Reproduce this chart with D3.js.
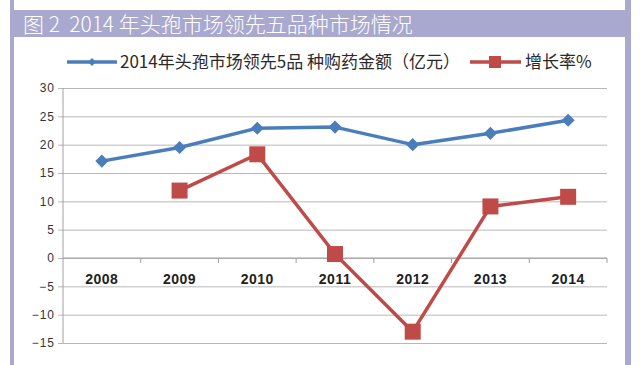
<!DOCTYPE html>
<html>
<head>
<meta charset="utf-8">
<script src="https://cdn.jsdelivr.net/npm/d3@7"></script>
<style>
  body { margin: 0; background: #fff; }
  svg { display: block; }
</style>
</head>
<body>
<svg id="chart" width="640" height="365"></svg>
<script>
// data
const years = ["2008", "2009", "2010", "2011", "2012", "2013", "2014"];
const amount = [17.1, 19.5, 22.9, 23.1, 20.0, 22.0, 24.3];
const growth = [null, 11.9, 18.3, 0.7, -13.0, 9.1, 10.8];
const yTicks = [30, 25, 20, 15, 10, 5, 0, -5, -10, -15];
const title = "图 2\u00a0\u00a02014 年头孢市场领先五品种市场情况";
const seriesNames = ["2014年头孢市场领先5品 种购药金额（亿元）", "增长率%"];

const svg = d3.select("#chart");
const frame = "#a9a9cf";
const blue = "#4a7ebb";
const red = "#be4b48";
const font = "'Liberation Sans', Arial, sans-serif";
const cjk = "'Noto Sans CJK SC', sans-serif";

// frame + title band
svg.append("rect").attr("x", 10).attr("y", 0).attr("width", 4).attr("height", 365).attr("fill", frame);
svg.append("rect").attr("x", 625).attr("y", 0).attr("width", 6).attr("height", 365).attr("fill", frame);
svg.append("rect").attr("x", 10).attr("y", 10).attr("width", 621).attr("height", 27).attr("fill", frame);
svg.append("text")
    .attr("x", 23).attr("y", 32)
    .attr("fill", "#fff")
    .attr("font-family", cjk)
    .attr("font-weight", 300)
    .attr("font-size", 21)
    .text(title);

const margin = { left: 63, right: 33, top: 88, bottom: 22 };
const innerW = 640 - margin.left - margin.right;
const innerH = 365 - margin.top - margin.bottom;

const x = d3.scaleBand().domain(years).range([0, innerW]);
const y = d3.scaleLinear().domain([-15, 30]).range([innerH, 0]);

const g = svg.append("g").attr("transform", "translate(" + margin.left + "," + margin.top + ")");

// gridlines + y labels
const yAxis = g.append("g")
    .call(d3.axisLeft(y).tickValues(yTicks).tickSize(-innerW).tickPadding(8));
yAxis.select(".domain").remove();
yAxis.selectAll(".tick line").attr("stroke", "#b8b8b8").attr("x1", -5);
yAxis.selectAll(".tick text")
    .attr("fill", "#333")
    .attr("font-family", font)
    .attr("font-size", 12)
    .attr("letter-spacing", 1);

g.append("line")
    .attr("x1", 0).attr("x2", 0).attr("y1", 0).attr("y2", innerH)
    .attr("stroke", "#a0a0a0");

// x axis at zero
const xAxisG = g.append("g").attr("transform", "translate(0," + y(0) + ")");
xAxisG.append("line").attr("x1", 0).attr("x2", innerW).attr("stroke", "#a0a0a0");
xAxisG.selectAll(".tk")
    .data(years)
    .join("line")
    .attr("x1", d => x(d) + x.bandwidth())
    .attr("x2", d => x(d) + x.bandwidth())
    .attr("y1", 0).attr("y2", 5)
    .attr("stroke", "#a0a0a0");
xAxisG.selectAll(".lbl")
    .data(years)
    .join("text")
    .attr("x", d => x(d) + x.bandwidth() / 2)
    .attr("y", 26)
    .attr("text-anchor", "middle")
    .attr("font-family", font)
    .attr("font-weight", "bold")
    .attr("font-size", 14)
    .attr("letter-spacing", 0.5)
    .attr("fill", "#222")
    .text(d => d);

const cx = d => x(d) + x.bandwidth() / 2;

const lineGen = d3.line()
    .x(d => cx(d[0]))
    .y(d => y(d[1]));

const blueData = years.map((d, i) => [d, amount[i]]);
const redData = years.map((d, i) => [d, growth[i]]).filter(d => d[1] != null);

g.append("path").datum(blueData)
    .attr("fill", "none").attr("stroke", blue).attr("stroke-width", 3.5)
    .attr("stroke-linejoin", "round").attr("d", lineGen);
g.append("path").datum(redData)
    .attr("fill", "none").attr("stroke", red).attr("stroke-width", 3.5)
    .attr("stroke-linejoin", "round").attr("d", lineGen);

const diamond = d3.symbol().type(d3.symbolDiamond2).size(110);
g.selectAll(".dia").data(blueData).join("path")
    .attr("transform", d => "translate(" + cx(d[0]) + "," + y(d[1]) + ")")
    .attr("d", diamond).attr("fill", blue);

g.selectAll(".sq").data(redData).join("rect")
    .attr("x", d => cx(d[0]) - 8).attr("y", d => y(d[1]) - 8)
    .attr("width", 16).attr("height", 16).attr("fill", red);

// legend
const leg = svg.append("g").attr("font-family", cjk).attr("font-size", 17).attr("fill", "#2a2a2a");
leg.append("line").attr("x1", 67).attr("x2", 117).attr("y1", 62).attr("y2", 62)
    .attr("stroke", blue).attr("stroke-width", 3.5);
leg.append("path").attr("transform", "translate(92,62)")
    .attr("d", d3.symbol().type(d3.symbolDiamond2).size(40)).attr("fill", blue);
leg.append("text").attr("x", 120).attr("y", 68).text(seriesNames[0]);
leg.append("line").attr("x1", 470).attr("x2", 521).attr("y1", 62).attr("y2", 62)
    .attr("stroke", red).attr("stroke-width", 3.5);
leg.append("rect").attr("x", 489).attr("y", 56).attr("width", 12).attr("height", 12).attr("fill", red);
leg.append("text").attr("x", 525).attr("y", 68).text(seriesNames[1]);
</script>
</body>
</html>
